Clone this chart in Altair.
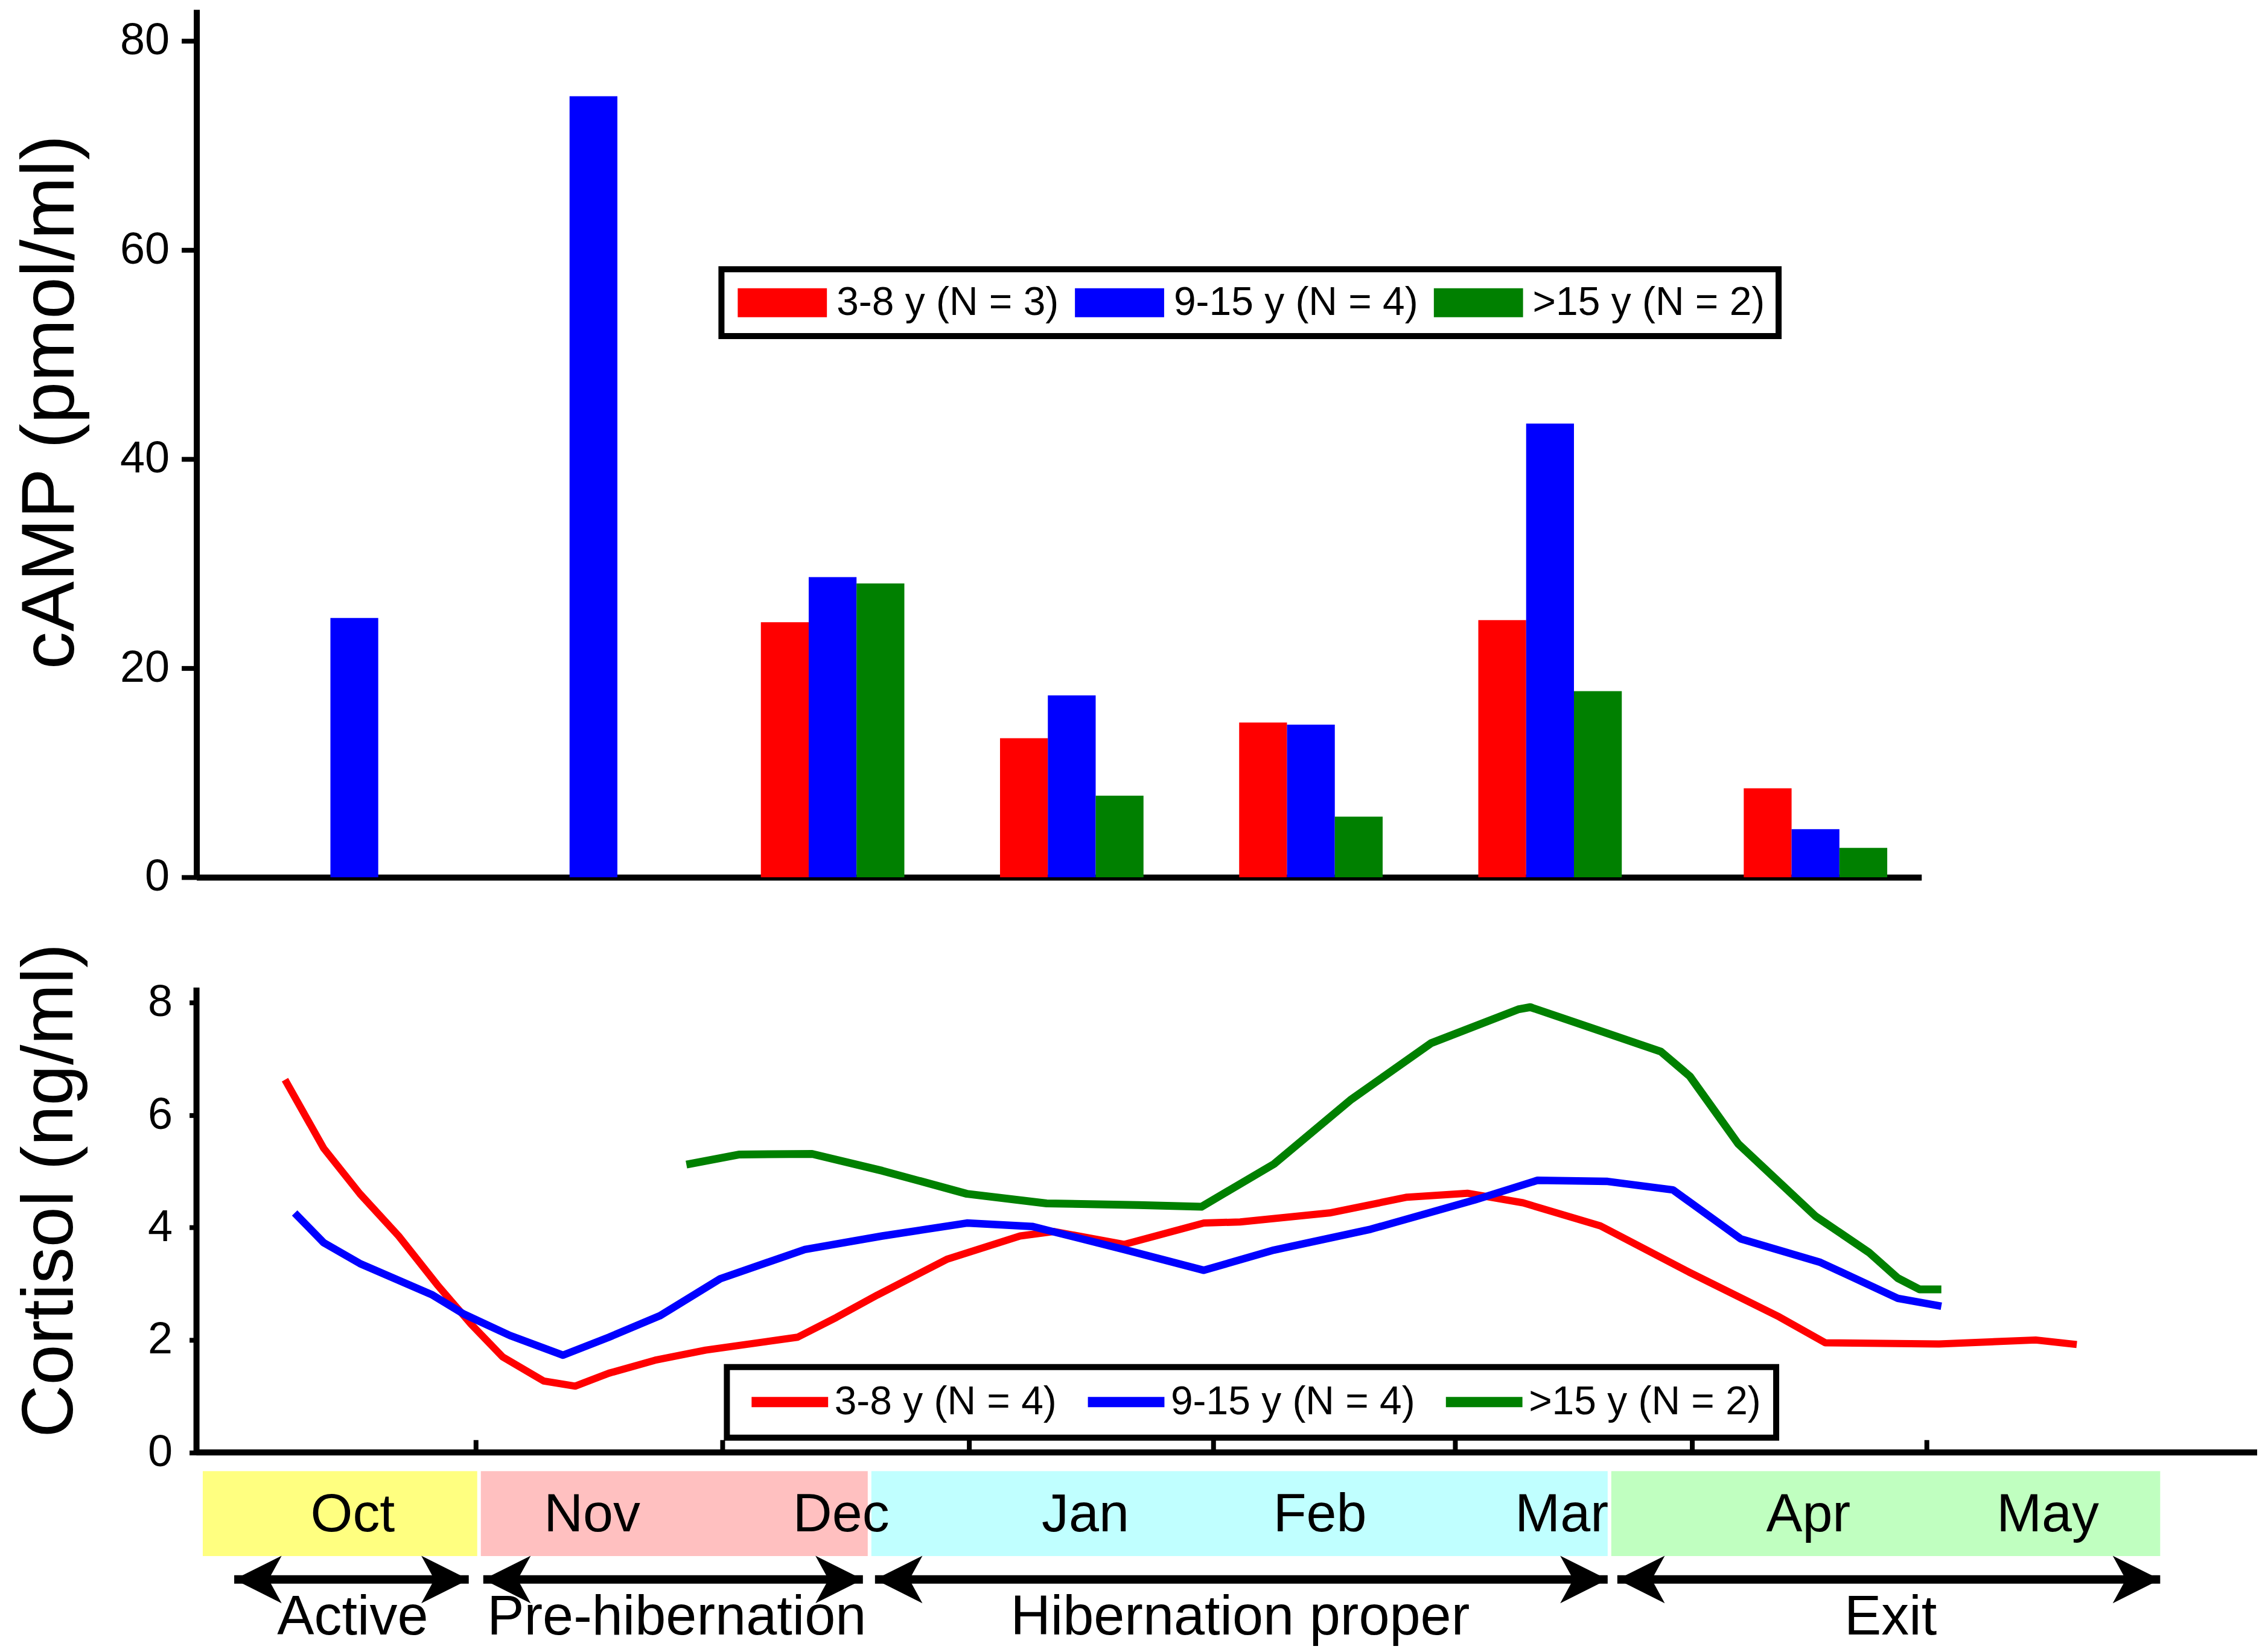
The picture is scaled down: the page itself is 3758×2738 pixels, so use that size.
import json
import altair as alt
import pandas as pd

# ---------------- data ----------------
group_colors = ["#FF0000", "#0000FF", "#008000"]
bar_labels = ["3-8 y (N = 3)", "9-15 y (N = 4)", ">15 y (N = 2)"]
line_labels = ["3-8 y (N = 4)", "9-15 y (N = 4)", ">15 y (N = 2)"]

# cAMP (pmol/ml), sampling months (position in months from October)
camp_months = ["Oct", "Nov", "Dec", "Jan", "Feb", "Mar", "Apr"]
camp_pos = [0, 1, 2, 3, 4, 5, 6.11]
camp_3_8 = [None, None, 24.4, 13.3, 14.8, 24.6, 8.5]
camp_9_15 = [24.8, 74.7, 28.7, 17.4, 14.6, 43.4, 4.6]
camp_15p = [None, None, 28.1, 7.8, 5.8, 17.8, 2.8]

# Cortisol (ng/ml) curves, x = months from October
cort_3_8_t = [-0.29, -0.13, 0.02, 0.18, 0.34, 0.48, 0.61, 0.78, 0.91, 1.05, 1.24, 1.45,
              1.83, 1.99, 2.16, 2.45, 2.75, 2.89, 3.18, 3.51, 3.66, 4.03, 4.35, 4.60,
              4.83, 5.15, 5.52, 5.89, 6.08, 6.55, 6.95, 7.12]
cort_3_8_v = [6.63, 5.41, 4.60, 3.85, 2.98, 2.28, 1.70, 1.27, 1.18, 1.41, 1.64, 1.82,
              2.05, 2.40, 2.80, 3.44, 3.85, 3.93, 3.70, 4.08, 4.10, 4.26, 4.54, 4.61,
              4.44, 4.03, 3.20, 2.41, 1.95, 1.93, 2.00, 1.92]
cort_9_15_t = [-0.25, -0.13, 0.02, 0.32, 0.45, 0.64, 0.86, 1.05, 1.26, 1.51, 1.86, 2.18,
               2.53, 2.80, 3.18, 3.51, 3.80, 4.20, 4.63, 4.89, 5.18, 5.45, 5.73, 6.06,
               6.38, 6.56]
cort_9_15_v = [4.26, 3.73, 3.36, 2.80, 2.46, 2.08, 1.73, 2.05, 2.43, 3.09, 3.61, 3.85,
               4.08, 4.02, 3.61, 3.24, 3.60, 3.97, 4.49, 4.84, 4.82, 4.67, 3.80, 3.38,
               2.74, 2.60]
cort_15p_t = [1.37, 1.59, 1.89, 2.18, 2.53, 2.86, 3.24, 3.50, 3.80, 4.12, 4.45, 4.81,
              4.86, 5.12, 5.40, 5.52, 5.72, 6.04, 6.26, 6.38, 6.47, 6.56]
cort_15p_v = [5.12, 5.30, 5.31, 5.01, 4.60, 4.43, 4.40, 4.37, 5.13, 6.28, 7.28, 7.88,
              7.92, 7.54, 7.13, 6.69, 5.49, 4.20, 3.56, 3.10, 2.90, 2.90]

# calendar strip
month_names = ["Oct", "Nov", "Dec", "Jan", "Feb", "Mar", "Apr", "May"]
month_label_pos = [-0.01, 0.98, 2.01, 3.02, 3.99, 4.99, 6.01, 7.00]
month_boundaries = [0.50, 1.52, 2.54, 3.55, 4.55, 5.53, 6.50]

phases = ["Active", "Pre-hibernation", "Hibernation proper", "Exit"]
phase_colors = ["#FFFF80", "#FFC0C0", "#C0FFFF", "#C0FFC0"]
phase_box_start = [-0.63, 0.52, 2.135, 5.195]
phase_box_end = [0.505, 2.12, 5.18, 7.465]
phase_arrow_start = [-0.50, 0.53, 2.15, 5.22]
phase_arrow_end = [0.47, 2.10, 5.18, 7.465]
phase_label_pos = [-0.01, 1.33, 3.66, 6.35]

# ---------------- layout constants ----------------
FONT = "Liberation Sans"
TOP_W, TOP_H = 2862, 1440
BOT_W, BOT_H = 3419, 1094
TOP_X = [-0.660, 6.553]
TOP_Y = [0, 83]
BOT_X = [-0.656, 7.866]
BOT_Y = [-3.455, 8.27]
BW = 0.2
BOX_Y0, BOX_Y1 = -0.332, -1.843
MONTH_Y = -1.115
ARROW_Y = -2.26
PHASE_Y = -2.937
TICK_LEN = 0.22

# ---------------- top: cAMP bars ----------------
rows = []
for lab, vals in zip(bar_labels, [camp_3_8, camp_9_15, camp_15p]):
    for m, p, v in zip(camp_months, camp_pos, vals):
        if v is not None:
            rows.append({"month": m, "pos": p, "group": lab, "camp": v})
bar_df = pd.DataFrame(rows)

top = (
    alt.Chart(bar_df)
    .transform_calculate(slot=f"indexof({json.dumps(bar_labels)}, datum.group) - 1")
    .transform_calculate(
        xa=f"datum.pos + datum.slot * {BW} - {BW / 2}",
        xb=f"datum.pos + datum.slot * {BW} + {BW / 2}",
    )
    .mark_rect()
    .encode(
        x=alt.X("xa:Q", scale=alt.Scale(domain=TOP_X, nice=False, zero=False),
                axis=alt.Axis(labels=False, ticks=False, title=None, grid=False,
                              domainWidth=10, domainColor="black")),
        x2="xb:Q",
        y=alt.Y("camp:Q", scale=alt.Scale(domain=TOP_Y, nice=False),
                axis=alt.Axis(values=[0, 20, 40, 60, 80], title="cAMP (pmol/ml)",
                              titleFont=FONT, titleFontSize=125, titleFontWeight="normal",
                              titleColor="black", titleX=-178, titleY=651, titleAngle=270,
                              titleBaseline="bottom", titleAlign="center",
                              labelFont=FONT, labelFontSize=74, labelColor="black",
                              labelPadding=20, labelFlush=False,
                              tickSize=25, tickWidth=8, tickColor="black",
                              domainWidth=10, domainColor="black", grid=False)),
        y2=alt.datum(0),
        color=alt.Color("group:N", scale=alt.Scale(domain=bar_labels, range=group_colors),
                        legend=alt.Legend(title=None, orient="none", legendX=871, legendY=431,
                                          direction="horizontal",
                                          symbolType="M-3.083,-1H3.083V1H-3.083Z",
                                          symbolSize=2304, symbolOffset=45.5, labelOffset=57,
                                          symbolStrokeWidth=0, labelFont=FONT, labelFontSize=66,
                                          labelLimit=2000,
                                          labelColor="black", columnPadding=21.5, padding=22.5,
                                          fillColor="white", strokeColor="black")),
    )
    .properties(width=TOP_W, height=TOP_H)
)

# ---------------- bottom: cortisol lines + calendar strip ----------------
lrows = []
for lab, ts, vs in zip(line_labels, [cort_3_8_t, cort_9_15_t, cort_15p_t],
                       [cort_3_8_v, cort_9_15_v, cort_15p_v]):
    for t, v in zip(ts, vs):
        lrows.append({"t": t, "v": v, "group": lab})
line_df = pd.DataFrame(lrows)

xs = alt.Scale(domain=BOT_X, nice=False, zero=False)
ys = alt.Scale(domain=BOT_Y, nice=False, zero=False)
bot_yaxis = alt.Axis(values=[0, 2, 4, 6, 8], title="Cortisol (ng/ml)",
                     titleFont=FONT, titleFontSize=121, titleFontWeight="normal",
                     titleColor="black", titleX=-181, titleY=336.5, titleAngle=270,
                     titleBaseline="bottom", titleAlign="center",
                     labelFont=FONT, labelFontSize=74, labelColor="black",
                     labelPadding=28, labelFlush=False,
                     tickSize=12, tickWidth=8, tickColor="black",
                     domain=False, grid=False)


def Yq(field):
    return alt.Y(field, scale=ys, axis=bot_yaxis)


def Xq(field):
    return alt.X(field, scale=xs, axis=None)


lines = alt.Chart(line_df).mark_line(strokeJoin="round").encode(
    x=Xq("t:Q"),
    y=Yq("v:Q"),
    color=alt.Color("group:N", scale=alt.Scale(domain=line_labels, range=group_colors),
                    legend=alt.Legend(title=None, orient="none", legendX=880, legendY=630,
                                      direction="horizontal",
                                      symbolType="M-4.233,0H4.233",
                                      symbolSize=900, symbolOffset=46.5, labelOffset=41,
                                      symbolStrokeWidth=17, labelFont=FONT, labelFontSize=66,
                                      labelLimit=2000,
                                      labelColor="black", columnPadding=17, padding=25,
                                      fillColor="white", strokeColor="black")),
    strokeWidth=alt.StrokeWidth("group:N", scale=alt.Scale(domain=line_labels, range=[12, 13, 15]),
                                legend=None),
)

one = alt.Data(values=[{"k": 0}])

x_axis_line = alt.Chart(one).transform_calculate(y0="0").mark_rule(
    color="black", strokeWidth=10).encode(
    x=alt.value(0), x2=alt.value(BOT_W), y=Yq("y0:Q"))

y_axis_line = alt.Chart(one).transform_calculate(y0="0", y1=f"{BOT_Y[1]}").mark_rule(
    color="black", strokeWidth=10).encode(
    x=alt.value(0), y=Yq("y0:Q"), y2="y1:Q")

tick_df = pd.DataFrame({"b": month_boundaries})
x_ticks = alt.Chart(tick_df).transform_calculate(y0="0", y1=f"{TICK_LEN}").mark_rule(
    color="black", strokeWidth=8).encode(
    x=Xq("b:Q"), y=Yq("y0:Q"), y2="y1:Q")

phase_df = pd.DataFrame({"phase": phases, "bs": phase_box_start, "be": phase_box_end,
                         "as_": phase_arrow_start, "ae": phase_arrow_end, "lp": phase_label_pos})

boxes = alt.Chart(phase_df).transform_calculate(y0=f"{BOX_Y0}", y1=f"{BOX_Y1}").mark_rect().encode(
    x=Xq("bs:Q"), x2="be:Q",
    y=Yq("y0:Q"), y2="y1:Q",
    fill=alt.Fill("phase:N", scale=alt.Scale(domain=phases, range=phase_colors), legend=None),
)

month_df = pd.DataFrame({"m": month_names, "p": month_label_pos})
month_text = alt.Chart(month_df).transform_calculate(y0=f"{MONTH_Y}").mark_text(
    font=FONT, fontSize=90, color="black", align="center", baseline="middle").encode(
    x=Xq("p:Q"), y=Yq("y0:Q"), text="m:N")

arrow_lines = alt.Chart(phase_df).transform_calculate(y0=f"{ARROW_Y}").mark_rule(
    color="black", strokeWidth=14).encode(
    x=Xq("as_:Q"), x2="ae:Q", y=Yq("y0:Q"))

LEFT_HEAD = "M0,0L2,-1L1.45,0L2,1Z"
RIGHT_HEAD = "M0,0L-2,-1L-1.45,0L-2,1Z"
left_heads = alt.Chart(phase_df).transform_calculate(y0=f"{ARROW_Y}").mark_point(
    shape=LEFT_HEAD, filled=True, color="black", opacity=1, size=6200, strokeWidth=0).encode(
    x=Xq("as_:Q"), y=Yq("y0:Q"))
right_heads = alt.Chart(phase_df).transform_calculate(y0=f"{ARROW_Y}").mark_point(
    shape=RIGHT_HEAD, filled=True, color="black", opacity=1, size=6200, strokeWidth=0).encode(
    x=Xq("ae:Q"), y=Yq("y0:Q"))

phase_text = alt.Chart(phase_df).transform_calculate(y0=f"{PHASE_Y}").mark_text(
    font=FONT, fontSize=92, color="black", align="center", baseline="middle").encode(
    x=Xq("lp:Q"), y=Yq("y0:Q"), text="phase:N")

bottom = alt.layer(
    boxes, month_text, arrow_lines, left_heads, right_heads, phase_text,
    x_axis_line, y_axis_line, x_ticks, lines,
).properties(width=BOT_W, height=BOT_H)

chart = (
    alt.vconcat(top, bottom, spacing=183, bounds="flush")
    .resolve_scale(x="independent", y="independent", color="independent")
    .resolve_legend(color="independent")
    .properties(padding={"left": 14, "top": 6, "right": 5, "bottom": 0}, background="white")
    .configure(font=FONT)
    .configure_view(stroke=None)
    .configure_legend(strokeWidth=10)
)

chart.save("out.html", embed_options={"renderer": "svg", "actions": False})
